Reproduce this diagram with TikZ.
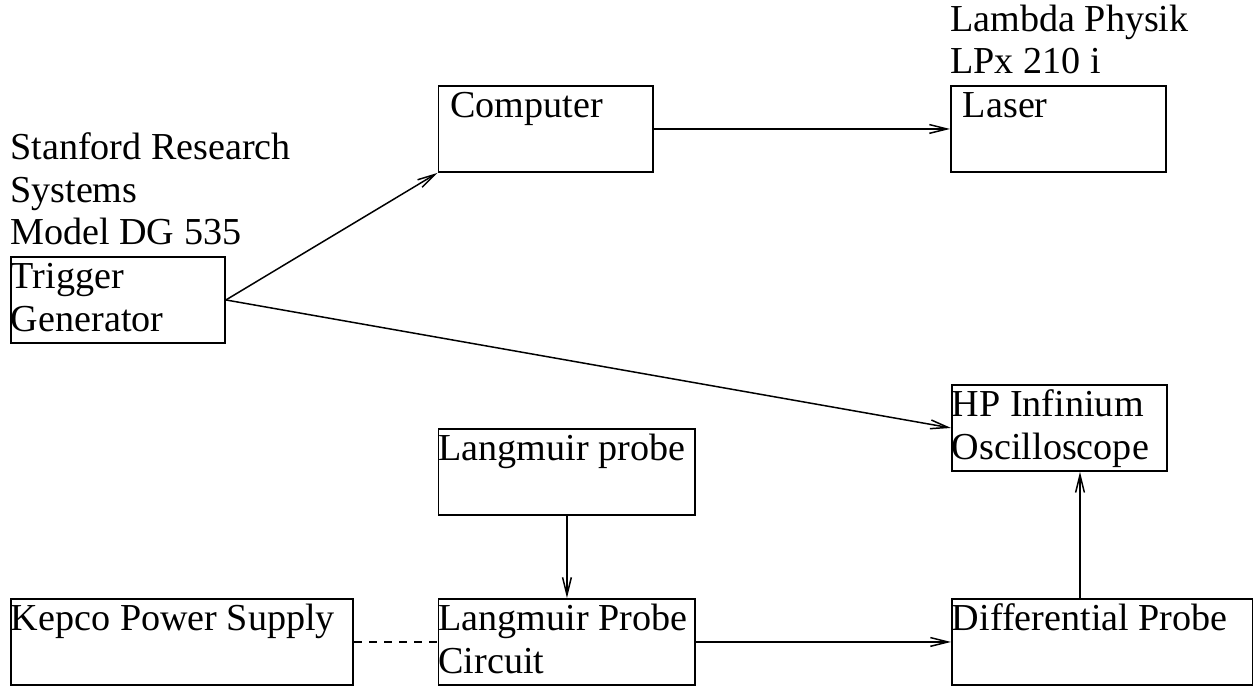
\documentclass[tikz,border=0pt]{standalone}
\usepackage{fontspec}
\setmainfont{Liberation Serif}
\usetikzlibrary{positioning, arrows.meta}
\tikzset{box/.style={draw, line width=1.1pt, anchor=north west, align=flush left,
           inner sep=0pt, text height=0.64cm, text depth=1.08cm, text width=#1},
         link/.style={-{Straight Barb[length=10pt,width=5pt]}, line width=0.85pt}}

\begin{document}
\begin{tikzpicture}[x=0.02cm, y=-0.02cm,
    every node/.style={font=\fontsize{21.7pt}{24.4pt}\selectfont}]

        \useasboundingbox (0,0) rectangle (1253,688);

        % Nodes
        \node[box=4.28cm] (trig) at (10,256) {Trigger\\Generator};
        \node[box=3.81cm, inner xsep=0.24cm] (comp) at (437.5,85) {Computer};
        \node[box=3.83cm, inner xsep=0.24cm] (laser) at (950,85) {Laser};
        \node[box=4.30cm] (hp) at (951,384) {HP Infinium\\Oscilloscope};
        \node[box=5.14cm] (lprobe) at (437.5,428) {Langmuir probe};
        \node[box=6.85cm] (kepco) at (10,598) {Kepco Power Supply};
        \node[box=5.14cm] (lpc) at (437.5,598) {Langmuir Probe\\Circuit};
        \node[box=6.02cm] (diff) at (951,598) {Differential Probe};

        \node[anchor=base west, align=flush left, inner sep=0pt] (srs) at (10,245)
            {Stanford Research\\Systems\\Model DG 535};
        \node[anchor=base west, align=flush left, inner sep=0pt] (lpx) at (950,74)
            {Lambda Physik\\LPx 210 i};
        \coordinate (tap) at (1080,0);

        % Edges
        \draw[link] (trig.east) -- (comp.south west);
        \draw[link] (comp.east) -- (laser.west);
        \draw[link] (trig.east) -- (hp.west);
        \draw[link] (lprobe.south) -- (lpc.north);
        \draw[line width=0.85pt, dash pattern=on 4.5pt off 4pt] (kepco.east) -- (lpc.west);
        \draw[link] (lpc.east) -- (diff.west);
        \draw[link] (diff.north -| tap) -- (hp.south -| tap);

    \end{tikzpicture}
\end{document}
